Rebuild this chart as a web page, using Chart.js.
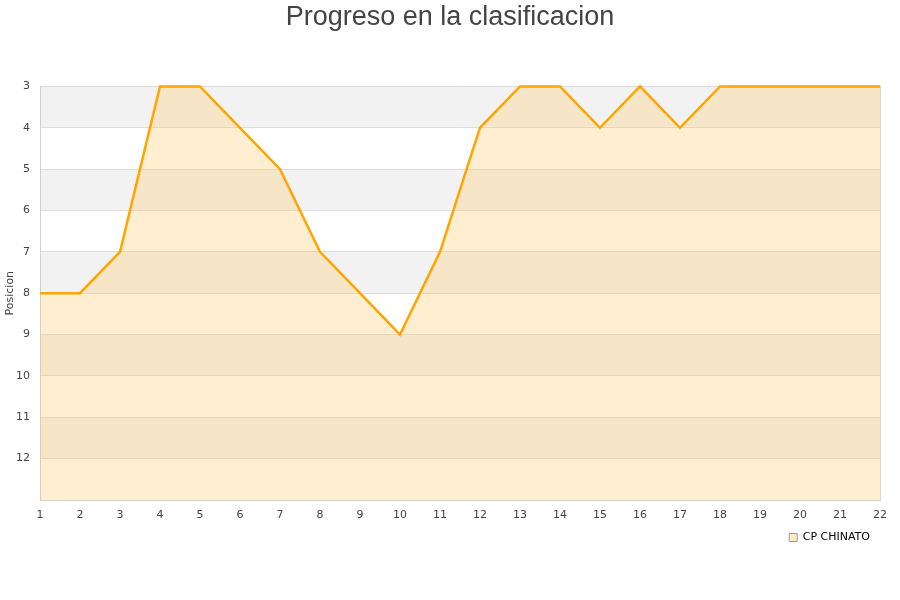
<!DOCTYPE html>
<html>
<head>
<meta charset="utf-8">
<script src="https://cdn.jsdelivr.net/npm/chart.js@4/dist/chart.umd.min.js"></script>
<style>
  html, body { margin:0; padding:0; background:#fff; }
  #wrap { width:900px; height:600px; }
</style>
</head>
<body>
<div id="wrap"><canvas id="myChart" width="900" height="600"></canvas></div>
<script>
// jornadas and position per jornada
var jornadas = ['1','2','3','4','5','6','7','8','9','10','11','12','13','14','15','16','17','18','19','20','21','22'];
var posiciones = [8, 8, 7, 3, 3, 4, 5, 7, 8, 9, 7, 4, 3, 3, 4, 3, 4, 3, 3, 3, 3, 3];
var equipo = 'CP CHINATO';
var posMin = 3, posMax = 13;

// gray / white stripes behind the plot
const bandas = {
    id:'bandas',
    beforeDraw(chart){
        const ctx = chart.ctx, a = chart.chartArea, y = chart.scales.y;
        ctx.save();
        for (let v = posMin; v < posMax; v += 2) {
            const y1 = y.getPixelForValue(v), y2 = y.getPixelForValue(v + 1);
            ctx.fillStyle = '#f2f2f2';
            ctx.fillRect(a.left, Math.min(y1,y2), a.right - a.left, Math.abs(y2 - y1));
        }
        ctx.restore();
    }
};

Chart.defaults.font.family = 'DejaVu Sans';

const ctx = document.getElementById('myChart').getContext('2d');

const myChart = new Chart(ctx, {
    type: 'line',
    plugins:[bandas],
    data: {
        labels: jornadas,
        datasets: [{
            label: equipo,
            data: posiciones,
            borderColor: '#ffa500',
            backgroundColor: 'rgba(255,200,100,0.3)',
            borderWidth: 2.5,
            pointRadius: 0,
            tension: 0,
            fill: 'start',
            clip: 4
        }]
    },
    options:{
        responsive:false,
        animation:false,
        layout:{ padding:{ left:0, right:0, top:0, bottom:47 } },
        scales:{
            y:{
                reverse:true,
                min:posMin,
                max:posMax,
                afterFit:function(s){ s.width = 40; },
                ticks:{
                    stepSize:1,
                    padding:10,
                    color:'#444',
                    font:{ size:11 },
                    callback:function(v){ return v === posMax ? '' : v; }
                },
                grid:{ color:'#dddddd', drawTicks:false },
                border:{ color:'#d0d0d0' },
                title:{ display:true, text:'Posicion', color:'#444', font:{ size:11 }, padding:{ top:4, bottom:0 } }
            },
            // empty strip on the right so the title stays centred on the page
            derecha:{
                position:'right',
                min:posMin,
                max:posMax,
                afterFit:function(s){ s.width = 20; },
                ticks:{ display:false },
                grid:{ display:false },
                border:{ display:true, color:'#d8d8d8' }
            },
            x:{
                offset:false,
                afterFit:function(s){ s.height = 22; },
                ticks:{ color:'#444', font:{ size:11 }, maxRotation:0, autoSkip:false, padding:1 },
                grid:{ display:false },
                border:{ color:'#d0d0d0' }
            }
        },
        plugins:{
            title:{
                display:true,
                text:'Progreso en la clasificacion',
                color:'#444',
                font:{ family:'Liberation Sans', size:27, weight:'normal' },
                padding:{ top:1, bottom:53 }
            },
            legend:{
                position:'bottom',
                align:'end',
                fullSize:false,
                labels:{
                    boxWidth:8,
                    boxHeight:8,
                    color:'#000',
                    font:{ size:11 },
                    generateLabels:function(chart){
                        return [{ text:equipo, fillStyle:'#fde9c4', strokeStyle:'#999', lineWidth:1, datasetIndex:0 }];
                    }
                }
            },
            tooltip:{ enabled:false }
        }
    }
});
</script>
</body>
</html>
